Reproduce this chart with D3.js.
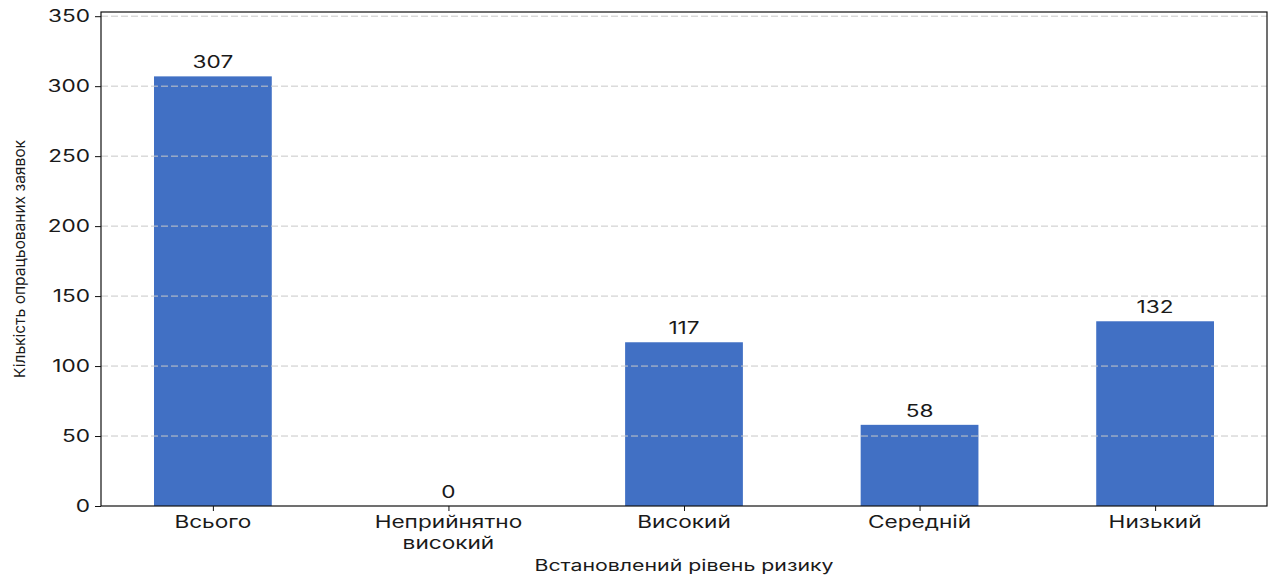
<!DOCTYPE html>
<html><head><meta charset="utf-8">
<script src="https://cdn.jsdelivr.net/npm/d3@7"></script>
<style>body{margin:0;background:#fff;}svg text{font-family:Inter,"Open Sans",sans-serif;fill:#1a1a1a;}</style>
</head><body><svg id="c" width="1276" height="577"></svg>
<script>
const categories = ["Всього", "Неприйнятно\nвисокий", "Високий", "Середній", "Низький"];
const values = [307, 0, 117, 58, 132];
const yTicks = [0, 50, 100, 150, 200, 250, 300, 350];
const yMax = 353;
const xTitle = "Встановлений рівень ризику";
const yTitle = "Кількість опрацьованих заявок";

const svg = d3.select("#c");
const L = 101, R = 1267, T = 12, B = 506;
const WIDEN = 1.33;
const x = d3.scaleLinear().domain([-0.475, categories.length - 1 + 0.475]).range([L, R]);
const y = d3.scaleLinear().domain([0, yMax]).range([B, T]);
const bw = x(0.5) - x(0);

function widen(sel) {
  sel.each(function () {
    const w = this.getComputedTextLength();
    if (w > 0) d3.select(this).attr("textLength", w * WIDEN).attr("lengthAdjust", "spacingAndGlyphs");
  });
}

svg.append("g").selectAll("rect").data(values).join("rect")
  .attr("x", (d, i) => x(i) - bw / 2).attr("width", bw)
  .attr("y", d => y(d)).attr("height", d => B - y(d))
  .attr("fill", "#4170c4");

svg.append("g").selectAll("line").data(yTicks.filter(t => t > 0)).join("line")
  .attr("x1", L).attr("x2", R).attr("y1", d => y(d)).attr("y2", d => y(d))
  .attr("stroke", "#c8c8c8").attr("stroke-dasharray", "7,3").attr("stroke-width", 1);

svg.append("rect").attr("x", L).attr("y", T).attr("width", R - L).attr("height", B - T)
  .attr("fill", "none").attr("stroke", "#111").attr("stroke-width", 1.2);

const yAxis = d3.axisLeft(y).tickValues(yTicks).tickSize(6).tickPadding(5);
const gy = svg.append("g").attr("transform", `translate(${L},0)`).call(yAxis);
gy.select(".domain").remove();
gy.selectAll("text").attr("font-size", 17).style("fill", "#1a1a1a").call(widen);
gy.selectAll("line").attr("stroke", "#111");

const xAxis = d3.axisBottom(x).tickValues(d3.range(categories.length)).tickSize(5).tickFormat(() => "");
const gx = svg.append("g").attr("transform", `translate(0,${B})`).call(xAxis);
gx.select(".domain").remove();
gx.selectAll("line").attr("stroke", "#111");

const lines = [];
categories.forEach((c, i) => c.split("\n").forEach((s, k) => lines.push({ i, k, s })));
svg.append("g").selectAll("text").data(lines).join("text")
  .attr("text-anchor", "middle").attr("font-size", 17)
  .attr("x", d => x(d.i)).attr("y", d => 528 + d.k * 21).text(d => d.s).call(widen);

svg.append("g").selectAll("text").data(values).join("text")
  .attr("text-anchor", "middle").attr("font-size", 17)
  .attr("x", (d, i) => x(i)).attr("y", d => y(d) - 8).text(d => d).call(widen);

svg.append("text").attr("x", x(2)).attr("y", 571).attr("text-anchor", "middle")
  .attr("font-size", 16).text(xTitle).call(widen);

svg.append("text").attr("transform", `translate(25,259) rotate(-90)`).attr("text-anchor", "middle")
  .attr("font-size", 15).attr("textLength", 238).attr("lengthAdjust", "spacingAndGlyphs").text(yTitle);
</script></body></html>
